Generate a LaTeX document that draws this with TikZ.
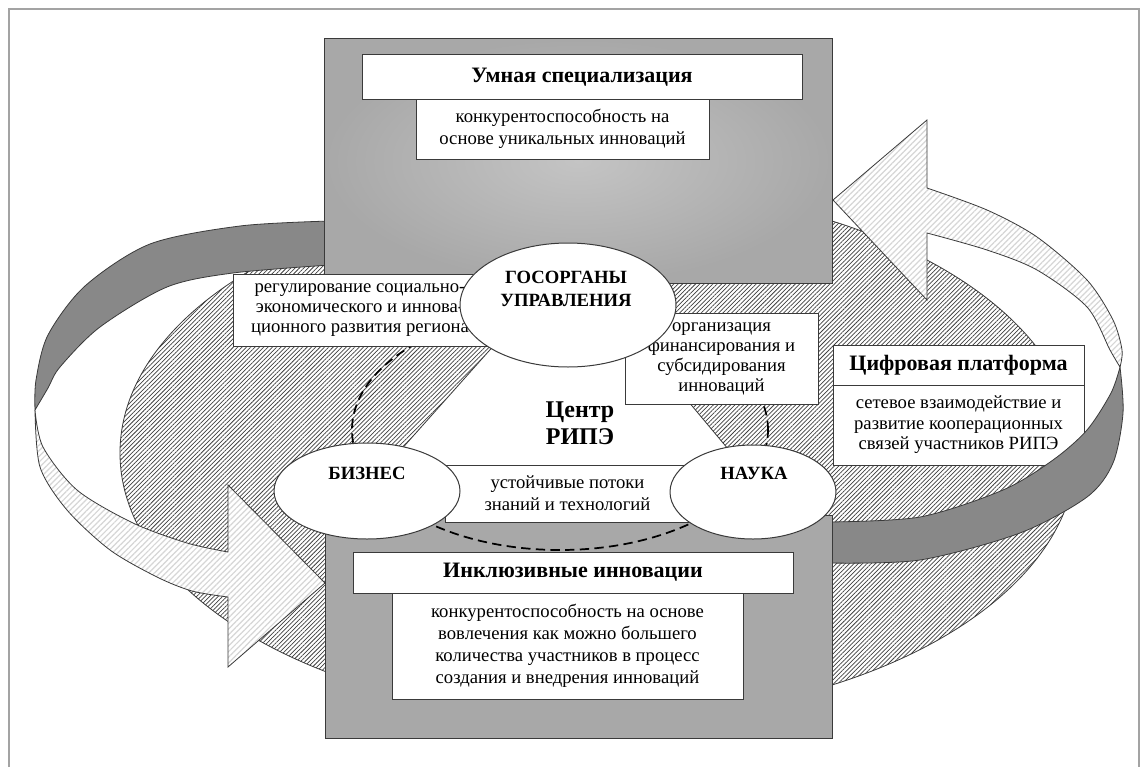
\documentclass[tikz,border=0pt]{standalone}
\usepackage{fontspec}
\setmainfont{Liberation Serif}
\usetikzlibrary{shapes.geometric,patterns.meta}
\definecolor{bandgray}{HTML}{888888}
\definecolor{rectgray}{HTML}{A8A8A8}
\definecolor{rectlight}{HTML}{C4C4C4}
\definecolor{edgecol}{HTML}{3A3A3A}
\definecolor{framegray}{HTML}{A3A3A3}
\newcommand\myBody{\fontsize{14}{16.5}\selectfont}
\newcommand\myTitle{\fontsize{16.5}{19}\selectfont\bfseries}
\newcommand\myOval{\fontsize{14}{17}\selectfont\bfseries}
\begin{document}
\begin{tikzpicture}[x=0.75pt,y=-0.75pt,
  box/.style={draw=edgecol, fill=white, line width=0.75pt, inner sep=0pt, align=center, font=\myBody},
  titlebox/.style={box, font=\myTitle},
  oval/.style={ellipse, draw=edgecol, fill=white, line width=0.75pt, inner sep=0pt},
  ovaltext/.style={align=center, font=\myOval, inner sep=0pt},
  band/.style={fill=bandgray, draw=edgecol, line width=0.6pt},
  lighthatch/.style={draw=edgecol, line width=0.6pt, preaction={fill=white},
    pattern={Lines[angle=45,distance=3pt,line width=0.9pt]}, pattern color=gray!32},
  darkhatch/.style={draw=edgecol, line width=0.6pt, preaction={fill=white},
    pattern={Lines[angle=45,distance=2.3pt,line width=0.55pt]}, pattern color=black!75},
  greyrect/.style={draw=edgecol, line width=0.75pt},
  dashring/.style={ellipse, draw=black, dash pattern=on 7pt off 4pt, line width=1.3pt, inner sep=0pt}
]
\useasboundingbox (0,0) rectangle (1148,767);
\fill[white] (0,0) rectangle (1148,767);
% page frame
\draw[framegray, line width=1.5pt] (9,767) -- (9,9) -- (1139,9) -- (1139,767);

% hatched region and white triangle
\node[darkhatch, ellipse, inner sep=0pt, minimum width=956*0.75pt, minimum height=532*0.75pt] (region) at (598,453) {};
\draw[draw=edgecol, fill=white, line width=0.6pt] (570,260) -- (374,480) -- (754,480) -- cycle;

% digital platform (below the right ribbon)
\node[titlebox, minimum width=251*0.75pt, minimum height=40*0.75pt] (digtitle) at (958.5,365) {Цифровая платформа};
\node[box, minimum width=251*0.75pt, minimum height=80*0.75pt, font=\fontsize{14}{15.4}\selectfont] (digdesc) at (958.5,425) {сетевое взаимодействие и\\развитие кооперационных\\связей участников РИПЭ};

% right ribbon
\draw[band] plot[smooth] coordinates {(828,522) (920,517) (1003,490) (1053,460) (1087,430) (1111,393) (1120,367)}
  -- plot[smooth] coordinates {(1120,367) (1123,413) (1113,463) (1087,497) (1020,533) (920,560) (828,563)} -- cycle;
\draw[lighthatch] plot[smooth] coordinates {(1120,367) (1122,350) (1113,320) (1087,280) (1037,237) (987,210) (927,188)}
  -- (927,120) -- (833,200) -- (927,300) -- (927,233)
  -- plot[smooth] coordinates {(927,233) (987,250) (1037,270) (1087,307) (1110,350) (1120,367)} -- cycle;

% left ribbon
\draw[band] plot[smooth] coordinates {(330,221) (240,226) (150,244) (85,286) (48,335) (36,380) (35,410)}
  -- plot[smooth] coordinates {(35,410) (48,388) (60,367) (100,327) (167,287) (233,273) (330,265)} -- cycle;
\draw[lighthatch] plot[smooth] coordinates {(35,410) (40,467) (67,510) (110,550) (157,577) (192,591) (228,597)}
  -- (228,667) -- (325,583) -- (228,485) -- (228,552)
  -- plot[smooth] coordinates {(228,552) (187,543) (133,523) (77,490) (43,447) (35,410)} -- cycle;

% grey blocks
\path[greyrect, inner color=rectlight, outer color=rectgray] (324,39) rectangle (832,283);
\path[greyrect, fill=rectgray] (325,515) rectangle (832,738);

% dashed ring
\node[dashring, minimum width=416*0.75pt, minimum height=240*0.75pt] (ring) at (560,430) {};

% text boxes
\node[titlebox, minimum width=440*0.75pt, minimum height=44*0.75pt] (smarttitle) at (582,77) {Умная специализация};
\node[box, minimum width=293*0.75pt, minimum height=60*0.75pt] (smartdesc) at (562.5,129) {конкурентоспособность на\\основе уникальных инноваций};
\node[box, minimum width=254*0.75pt, minimum height=72*0.75pt, font=\fontsize{14}{14.8}\selectfont] (regbox) at (360,310) {регулирование социально-\\экономического и иннова-\\ционного развития региона};
\node[box, minimum width=193*0.75pt, minimum height=91*0.75pt, font=\fontsize{14}{15}\selectfont] (orgbox) at (721.5,358.5) {организация\\финансирования и\\субсидирования\\инноваций};
\node[box, minimum width=245*0.75pt, minimum height=57*0.75pt] (flowbox) at (567.5,493.5) {устойчивые потоки\\знаний и технологий};
\node[titlebox, minimum width=440*0.75pt, minimum height=41*0.75pt] (inctitle) at (573,572.5) {Инклюзивные инновации};
\node[box, minimum width=351*0.75pt, minimum height=106*0.75pt] (incdesc) at (567.5,646) {конкурентоспособность на основе\\вовлечения как можно большего\\количества участников в процесс\\создания и внедрения инноваций};

% ellipses
\node[oval, minimum width=216*0.75pt, minimum height=124*0.75pt] (gov) at (568,305) {};
\node[oval, minimum width=186*0.75pt, minimum height=96*0.75pt] (biz) at (367,491) {};
\node[oval, minimum width=166*0.75pt, minimum height=94*0.75pt] (sci) at (753,492) {};
\node[ovaltext] (govtext) at (566,289) {ГОСОРГАНЫ\\УПРАВЛЕНИЯ};
\node[ovaltext] (biztext) at (367,473) {БИЗНЕС};
\node[ovaltext] (scitext) at (754,473) {НАУКА};
\node[align=center, inner sep=0pt, font=\fontsize{18}{20}\selectfont\bfseries] (centre) at (580,423) {Центр\\РИПЭ};
\end{tikzpicture}
\end{document}
